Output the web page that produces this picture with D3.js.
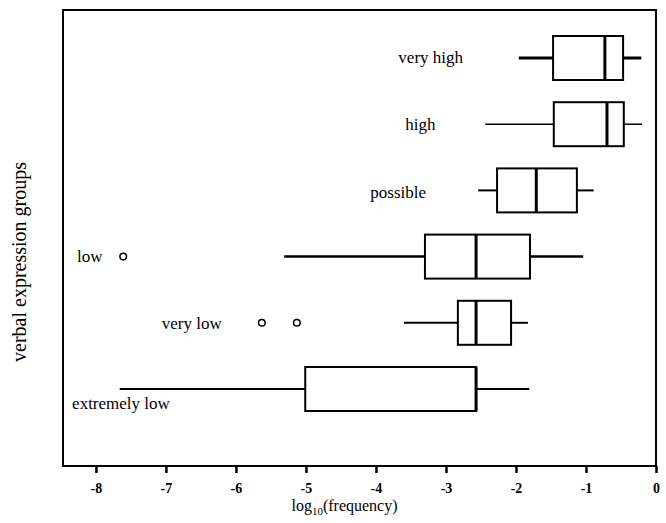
<!DOCTYPE html>
<html>
<head>
<meta charset="utf-8">
<script src="https://cdn.jsdelivr.net/npm/d3@7"></script>
<style>
  body { margin: 0; background: #fff; }
  text { font-family: "Liberation Serif", "Times New Roman", serif; fill: #000; }
</style>
</head>
<body>
<div id="chart"></div>
<script>
// define margin and svg size
const margin = { top: 10, bottom: 57, left: 63, right: 10 };
const width = 666 - margin.left - margin.right;
const height = 523 - margin.top - margin.bottom;

// box plot data, log10(frequency), top to bottom
const groups = ["very high", "high", "possible", "low", "very low", "extremely low"];
const whiskerLow = [-1.96, -2.44, -2.54, -5.31, -3.60, -7.66];
const q1 = [-1.47, -1.46, -2.27, -3.30, -2.83, -5.01];
const median = [-0.73, -0.70, -1.71, -2.57, -2.57, -2.57];
const q3 = [-0.47, -0.46, -1.13, -1.80, -2.07, -2.57];
const whiskerHigh = [-0.21, -0.20, -0.89, -1.04, -1.83, -1.81];
const outliers = [[], [], [], [-7.61], [-5.63, -5.13], []];
const xTicks = [-8, -7, -6, -5, -4, -3, -2, -1, 0];

// where each group name sits (x in axis units, y offset in px)
const labelX = [-3.68, -3.58, -4.08, -8.27, -7.06, -8.34];
const labelDy = [0, 0, 2, 0, 1, 15];
// heavier lines on some whiskers, as in the scan
const whiskerW = [3, 1.5, 2, 2.5, 2, 2];

const data = groups.map((g, i) => ({
    group: g,
    lo: whiskerLow[i], q1: q1[i], med: median[i], q3: q3[i], hi: whiskerHigh[i],
    out: outliers[i], lx: labelX[i], ldy: labelDy[i], ww: whiskerW[i]
}));

const svg = d3.select("#chart")
    .append("svg")
    .attr("width", 666)
    .attr("height", 523);

const g = svg.append("g")
    .attr("transform", "translate(" + margin.left + "," + margin.top + ")");

// scales
const x = d3.scaleLinear().domain([-8.47, 0]).range([0, width]);
const y = d3.scalePoint().domain(groups).range([48, 379]);
const boxH = 44;

// frame
g.append("rect")
    .attr("x", 0).attr("y", 0)
    .attr("width", width).attr("height", height)
    .attr("fill", "none")
    .attr("stroke", "#000")
    .attr("stroke-width", 2);

// x-axis
const xAxis = g.append("g")
    .attr("transform", "translate(0," + height + ")")
    .call(d3.axisBottom(x).tickValues(xTicks).tickSize(7).tickSizeOuter(0).tickFormat(d => d === 0 ? "0" : "-" + Math.abs(d)));
xAxis.select(".domain").remove();
xAxis.selectAll(".tick line").attr("stroke", "#000").attr("stroke-width", 2.5);
xAxis.selectAll(".tick text")
    .attr("y", 17)
    .style("font-family", "'Liberation Serif', serif")
    .style("font-size", "14px")
    .style("font-weight", "bold");

// axis titles
const xTitle = svg.append("text")
    .attr("x", margin.left + width / 2 - 15)
    .attr("y", 511)
    .attr("text-anchor", "middle")
    .style("font-size", "16px");
xTitle.append("tspan").text("log");
xTitle.append("tspan").attr("dy", 4).style("font-size", "11px").text("10");
xTitle.append("tspan").attr("dy", -4).text("(frequency)");

svg.append("text")
    .attr("transform", "translate(26,262) rotate(-90)")
    .attr("text-anchor", "middle")
    .style("font-size", "20px")
    .text("verbal expression groups");

// boxes
const box = g.selectAll(".box")
    .data(data)
    .enter()
    .append("g")
    .attr("class", "box");

// whiskers
box.append("line")
    .attr("x1", d => x(d.lo)).attr("x2", d => x(d.q1))
    .attr("y1", d => y(d.group)).attr("y2", d => y(d.group))
    .attr("stroke", "#000").attr("stroke-width", d => d.ww);
box.append("line")
    .attr("x1", d => x(d.q3)).attr("x2", d => x(d.hi))
    .attr("y1", d => y(d.group)).attr("y2", d => y(d.group))
    .attr("stroke", "#000").attr("stroke-width", d => d.ww);

box.append("rect")
    .attr("x", d => x(d.q1))
    .attr("y", d => y(d.group) - boxH / 2)
    .attr("width", d => x(d.q3) - x(d.q1))
    .attr("height", boxH)
    .attr("fill", "#fff")
    .attr("stroke", "#000")
    .attr("stroke-width", 2);

box.append("line")
    .attr("x1", d => x(d.med)).attr("x2", d => x(d.med))
    .attr("y1", d => y(d.group) - boxH / 2).attr("y2", d => y(d.group) + boxH / 2)
    .attr("stroke", "#000").attr("stroke-width", 3);

// outliers
box.selectAll("circle")
    .data(d => d.out.map(v => ({ v: v, group: d.group })))
    .enter()
    .append("circle")
    .attr("cx", d => x(d.v))
    .attr("cy", d => y(d.group))
    .attr("r", 3.3)
    .attr("fill", "#fff")
    .attr("stroke", "#000")
    .attr("stroke-width", 1.5);

// group labels
box.append("text")
    .attr("x", d => x(d.lx))
    .attr("y", d => y(d.group) + d.ldy)
    .attr("dy", "0.32em")
    .style("font-size", "17px")
    .text(d => d.group);
</script>
</body>
</html>
